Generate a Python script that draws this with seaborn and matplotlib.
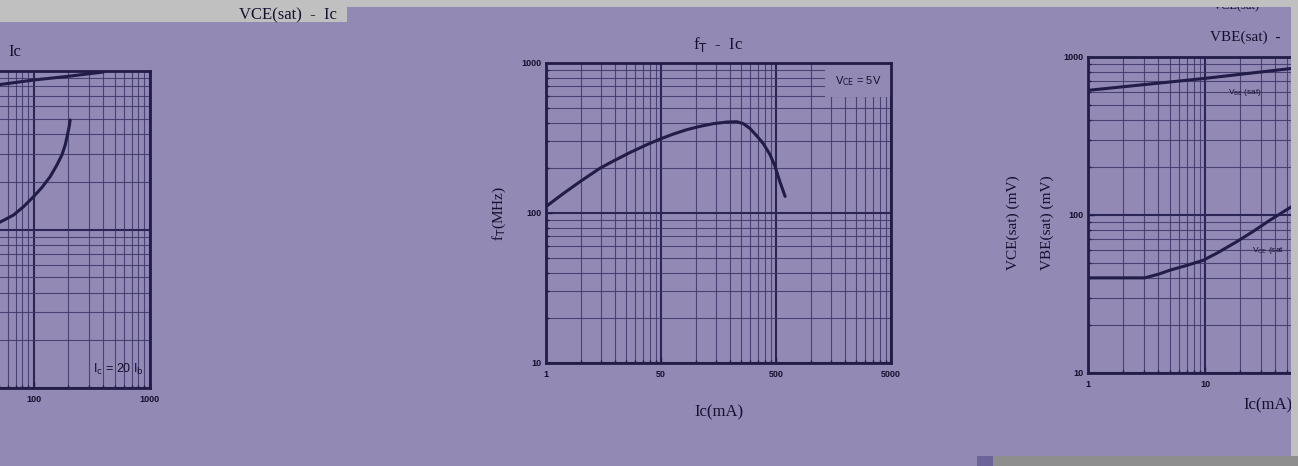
import matplotlib
matplotlib.use("Agg")
import matplotlib.pyplot as plt
import seaborn as sns
from matplotlib.patches import Rectangle
from matplotlib.ticker import FixedLocator, LogLocator, NullFormatter

# ---------------- data ----------------
# left panel (cut off): VBE(sat)/VCE(sat) - Ic, Ic = 20 Ib
p1_ic_top = [40, 56, 100, 200, 400]
p1_v_top = [804, 828, 877, 926, 985]
p1_ic_low = [45, 55.9, 67.3, 82, 100, 118, 139, 159, 176, 188, 196, 203, 207]
p1_v_low = [106, 114.8, 123.4, 139.3, 161, 184, 215, 255, 296, 343, 394, 446, 491]

# middle panel: fT - Ic, VCE = 5V
ft_ic = [1.01, 1.41, 1.98, 2.95, 3.85, 5.37, 7.5, 9.8, 12.8, 16.7, 21.8, 28.5,
         37.3, 45.5, 52, 59.4, 68, 77.6, 88.7, 98, 108, 120]
ft_mhz = [111, 134.6, 162, 199, 222, 253, 285, 311, 336, 359, 378, 394,
          404, 406, 394, 366, 327, 290, 245, 205, 162, 129]

# right panel: VBE(sat)/VCE(sat) - Ic
p3_ic_be = [1, 9.6, 54, 60]
p3_v_be = [615, 730, 845, 852]
p3_ic_ce = [1, 2, 3.05, 4, 5, 7, 9.6, 13, 18.5, 26, 35.7, 54, 58]
p3_v_ce = [40, 40, 40, 42.2, 44.7, 48, 51.6, 58, 67.5, 79, 92.5, 112, 116]

x_ticks = [1, 10, 100, 1000]
p1_xlabels = ["", "", "100", "1000"]
ft_xlabels = ["1", "50", "500", "5000"]
p3_xlabels = ["1", "10", "", ""]
y_ticks = [10, 100, 1000]
y_labels = ["10", "100", "1000"]

# ---------------- style ----------------
BG = "#9289b4"
DARK = "#221c48"
GRIDMAJ = "#2c2656"
GRIDMIN = "#3d3669"
TXT = "#15102e"
sns.set_style("ticks")
plt.rcParams["font.family"] = ["Liberation Serif", "DejaVu Serif"]
plt.rcParams["mathtext.fontset"] = "dejavusans"

W, H = 1298, 466
fig = plt.figure(figsize=(W / 100, H / 100), dpi=100, facecolor=BG)


def ax_at(l, t, r, b):
    return fig.add_axes([l / W, 1 - b / H, (r - l) / W, (b - t) / H])


def style_axes(ax, xlabels, ylabels, show_left=True):
    ax.set_facecolor(BG)
    ax.set_xscale("log")
    ax.set_yscale("log")
    ax.set_xlim(1, 1000)
    ax.set_ylim(10, 1000)
    ax.xaxis.set_major_locator(FixedLocator(x_ticks))
    ax.set_xticklabels(xlabels)
    ax.yaxis.set_major_locator(FixedLocator(y_ticks))
    ax.set_yticklabels(ylabels)
    for a in (ax.xaxis, ax.yaxis):
        a.set_minor_locator(LogLocator(base=10, subs=range(2, 10)))
        a.set_minor_formatter(NullFormatter())
    ax.grid(which="major", color=GRIDMAJ, lw=1.5)
    ax.grid(which="minor", color=GRIDMIN, lw=0.8, alpha=0.85)
    for s in ax.spines.values():
        s.set_color(DARK)
        s.set_linewidth(2.0)
    if not show_left:
        ax.spines["left"].set_visible(False)
    ax.tick_params(which="both", direction="in", color=DARK, width=1.0)
    ax.tick_params(which="major", length=4, pad=3)
    ax.tick_params(which="minor", length=2.5)
    ax.tick_params(axis="x", pad=5)
    for lab in ax.get_xticklabels() + ax.get_yticklabels():
        lab.set_fontfamily("Liberation Sans")
        lab.set_fontweight("bold")
        lab.set_fontsize(6.5)
        lab.set_color(TXT)
    ax.set_axisbelow(True)


# ---------------- panel 1 (left, cut off) ----------------
ax1 = ax_at(-198.5, 71, 149.5, 388)
style_axes(ax1, p1_xlabels, ["", "", ""], show_left=False)
sns.lineplot(x=p1_ic_top, y=p1_v_top, ax=ax1, color=DARK, lw=2.2)
sns.lineplot(x=p1_ic_low, y=p1_v_low, ax=ax1, color=DARK, lw=2.2)
ax1.text(0.985, 0.06, r"I$_{\rm c}$ = 20 I$_{\rm b}$", transform=ax1.transAxes,
         ha="right", va="center", fontsize=9, family="Liberation Sans", color=TXT)
ax1.set_xlabel("")
ax1.set_ylabel("")

# ---------------- panel 2 (fT - Ic) ----------------
ax2 = ax_at(546, 63, 891, 363)
style_axes(ax2, ft_xlabels, y_labels)
sns.lineplot(x=ft_ic, y=ft_mhz, ax=ax2, color=DARK, lw=2.2)
ax2.add_patch(Rectangle((0.809, 0.887), 0.191, 0.113, transform=ax2.transAxes,
                        facecolor=BG, edgecolor="none", zorder=1.5))
ax2.text(0.905, 0.94, r"V$_{\rm CE}$ = 5V", transform=ax2.transAxes, ha="center",
         va="center", fontsize=8, family="Liberation Sans", color=TXT, zorder=3)
ax2.set_title("")
ax2.set_xlabel("Ic(mA)", fontsize=12, color=TXT, labelpad=18)
ax2.set_ylabel(r"f$_{\rm T}$(MHz)", fontsize=11, color=TXT, labelpad=10)
fig.text(718 / W, 1 - 45 / H, r"f$_{\rm T}$  -  Ic", ha="center", va="center",
         fontsize=12, color=TXT)

# ---------------- panel 3 (right, cut off) ----------------
ax3 = ax_at(1088, 57, 1439, 373)
style_axes(ax3, p3_xlabels, y_labels)
sns.lineplot(x=p3_ic_be, y=p3_v_be, ax=ax3, color=DARK, lw=2.2)
sns.lineplot(x=p3_ic_ce, y=p3_v_ce, ax=ax3, color=DARK, lw=2.2)
ax3.set_xlabel("")
ax3.set_ylabel("")
fig.text(1245 / W, 1 - 92 / H, r"V$_{\rm BE}$ (sat)", ha="center", va="center",
         fontsize=6, family="Liberation Sans", color=TXT)
fig.text(1252 / W, 1 - 251 / H, r"V$_{\rm CE}$ (sat", ha="left", va="center",
         fontsize=6, family="Liberation Sans", color=TXT)
fig.text(1013 / W, 1 - 223 / H, "VCE(sat) (mV)", rotation=90, ha="center",
         va="center", fontsize=11, color=TXT)
fig.text(1047 / W, 1 - 223 / H, "VBE(sat) (mV)", rotation=90, ha="center",
         va="center", fontsize=11, color=TXT)
fig.text(1243 / W, 1 - 405 / H, "Ic(mA)", ha="left", va="center",
         fontsize=12, color=TXT)
fig.text(1210 / W, 1 - 37 / H, "VBE(sat)  -", ha="left", va="center",
         fontsize=11, color=TXT)
fig.text(1213 / W, 1 - 6 / H, "VCE(sat)", ha="left", va="center",
         fontsize=9, color=TXT)

# panel 1 title fragment
fig.text(8 / W, 1 - 52 / H, "Ic", ha="left", va="center", fontsize=12, color=TXT)

# ---------------- screenshot frame pieces ----------------
GRAY = "#c0c0c0"
fig.add_artist(Rectangle((0, 1 - 7 / H), 1, 7 / H, transform=fig.transFigure,
                         facecolor=GRAY, edgecolor="none", zorder=20))
fig.add_artist(Rectangle((0, 1 - 22 / H), 347 / W, 22 / H, transform=fig.transFigure,
                         facecolor=GRAY, edgecolor="none", zorder=20))
fig.add_artist(Rectangle((1291 / W, 0), 7 / W, 1, transform=fig.transFigure,
                         facecolor=GRAY, edgecolor="none", zorder=20))
fig.add_artist(Rectangle((977 / W, 0), 321 / W, 10 / H, transform=fig.transFigure,
                         facecolor="#8e8e8e", edgecolor="none", zorder=21))
fig.add_artist(Rectangle((977 / W, 0), 16 / W, 10 / H, transform=fig.transFigure,
                         facecolor="#6c6399", edgecolor="none", zorder=22))
t = fig.text(288 / W, 1 - 15 / H, "VCE(sat)  -  Ic", ha="center", va="center",
             fontsize=12, color=TXT)
t.set_zorder(25)

fig.savefig("out.png", dpi=100, facecolor=BG)
